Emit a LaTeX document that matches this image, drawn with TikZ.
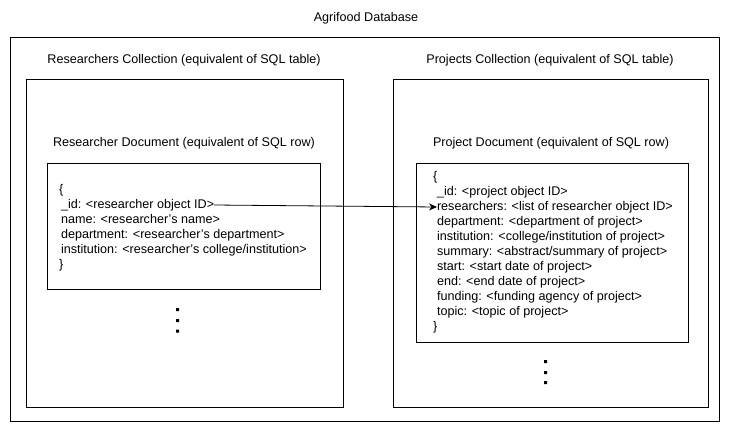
\documentclass[tikz,border=0pt]{standalone}
\usepackage{fontspec}
\setmainfont{Liberation Sans}
\usetikzlibrary{positioning,arrows.meta}

\begin{document}
\begin{tikzpicture}[x=1pt, y=-1pt, line width=0.8pt,
      every node/.style = {inner sep=0pt, outer sep=0pt, font=\fontsize{12.6}{14}\selectfont},
      box/.style = {draw, rectangle},
      field/.style = {anchor=west, text height=9pt, text depth=3pt},
      nextfield/.style = {below=3pt of #1.south west, anchor=north west}]
  \useasboundingbox (0,0) rectangle (736,440);
  % database
  \node (dbtitle) at (366,18) {Agrifood Database};
  \node[box, minimum width=709pt, minimum height=384pt] (db) at (364.5,229) {};
  % researchers collection
  \node (rcoltitle) at (184,60) {Researchers Collection (equivalent of SQL table)};
  \node[box, minimum width=317pt, minimum height=328pt] (rcol) at (184.5,243) {};
  \node (rdoctitle) at (184,143) {Researcher Document (equivalent of SQL row)};
  \node[box, minimum width=273pt, minimum height=126pt] (rdoc) at (183.5,226) {};
  \node[field] (ropen) at (59,190) {\{};
  \node[field, nextfield=ropen, xshift=2pt] (rid) {\_id: <researcher object ID>};
  \node[field, nextfield=rid] (rname) {name: <researcher's name>};
  \node[field, nextfield=rname] (rdept) {department: <researcher's department>};
  \node[field, nextfield=rdept] (rinst) {institution: <researcher's college/institution>};
  \node[field, nextfield=rinst, xshift=-2pt] (rclose) {\}};
  \fill (176,308) rectangle (179,311) (176,319) rectangle (179,322) (176,329.5) rectangle (179,332.5);
  % projects collection
  \node (pcoltitle) at (550,60) {Projects Collection (equivalent of SQL table)};
  \node[box, minimum width=315pt, minimum height=328pt] (pcol) at (550.5,243) {};
  \node (pdoctitle) at (551,143) {Project Document (equivalent of SQL row)};
  \node[box, minimum width=272pt, minimum height=179pt] (pdoc) at (552,252.5) {};
  \node[field] (popen) at (433,177) {\{};
  \node[field, nextfield=popen, xshift=4pt] (pid) {\_id: <project object ID>};
  \node[field, nextfield=pid] (presearchers) {researchers: <list of researcher object ID>};
  \node[field, nextfield=presearchers] (pdept) {department: <department of project>};
  \node[field, nextfield=pdept] (pinst) {institution: <college/institution of project>};
  \node[field, nextfield=pinst] (psummary) {summary: <abstract/summary of project>};
  \node[field, nextfield=psummary] (pstart) {start: <start date of project>};
  \node[field, nextfield=pstart] (pend) {end: <end date of project>};
  \node[field, nextfield=pend] (pfunding) {funding: <funding agency of project>};
  \node[field, nextfield=pfunding] (ptopic) {topic: <topic of project>};
  \node[field, nextfield=ptopic, xshift=-4pt] (pclose) {\}};
  \fill (544,360) rectangle (547,363) (544,371) rectangle (547,374) (544,381) rectangle (547,384);
  % reference between documents
  \draw[-{Stealth[length=8pt, width=7pt]}] (rid.east) -- (presearchers.west);
\end{tikzpicture}
\end{document}
